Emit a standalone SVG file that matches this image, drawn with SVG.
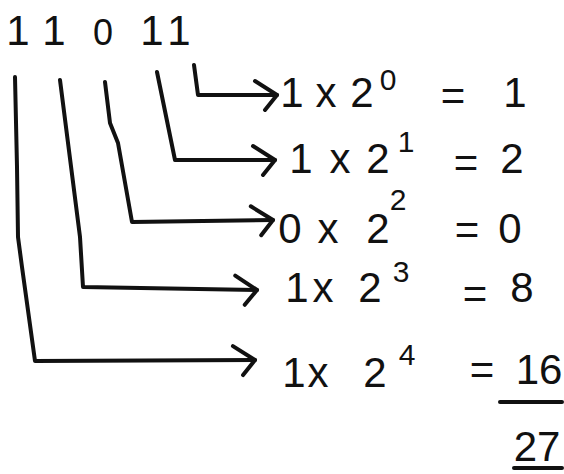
<svg xmlns="http://www.w3.org/2000/svg" width="564" height="474" viewBox="0 0 564 474">
<style>
.t{font-family:"Liberation Sans",Arial,sans-serif;font-size:42px;fill:#111;text-anchor:middle}
.s{font-size:30px}
.c{fill:none;stroke:#111;stroke-width:4;stroke-linecap:round;stroke-linejoin:round;marker-end:url(#ah)}
.r{fill:none;stroke:#111;stroke-width:4;stroke-linecap:round}
</style>
<defs>
<marker id="ah" markerUnits="userSpaceOnUse" markerWidth="40" markerHeight="40" viewBox="-30 -20 40 40" refX="0" refY="0" orient="auto" overflow="visible">
<path d="M-22,-14 L0,0 L-12,15" fill="none" stroke="#111" stroke-width="4" stroke-linecap="round" stroke-linejoin="round"/>
</marker>
</defs>
<rect width="564" height="474" fill="#fff"/>
<g id="binary">
<text class="t" x="18" y="45" font-size="44">1</text>
<text class="t" x="54" y="45" font-size="44">1</text>
<text class="t" x="103" y="45" style="font-size:36px">0</text>
<text class="t" x="152" y="45" font-size="44">1</text>
<text class="t" x="179" y="45" font-size="44">1</text>
</g>
<g id="connectors">
<path class="c" d="M194,65 L198,95 L277,95"/>
<path class="c" d="M157,72 L175,160 L275,160"/>
<path class="c" d="M105,82 L110,123 L118,143 L132,222 L273,220"/>
<path class="c" d="M60,80 L80,237 L83,287 L257,290"/>
<path class="c" d="M15,77 L17,167 L18,237 L22,267 L35,361 L255,360"/>
</g>
<g id="row0">
<text class="t" x="292" y="107">1</text>
<text class="t" x="326" y="107">x</text>
<text class="t" x="362" y="107">2</text>
<text class="t s" x="388" y="90">0</text>
<text class="t" x="453" y="110">=</text>
<text class="t" x="515" y="107">1</text>
</g>
<g id="row1">
<text class="t" x="301" y="173">1</text>
<text class="t" x="340" y="173">x</text>
<text class="t" x="378" y="173">2</text>
<text class="t s" x="406" y="152">1</text>
<text class="t" x="466" y="177">=</text>
<text class="t" x="512" y="173">2</text>
</g>
<g id="row2">
<text class="t" x="290" y="243">0</text>
<text class="t" x="328" y="243">x</text>
<text class="t" x="378" y="243">2</text>
<text class="t s" x="398" y="210">2</text>
<text class="t" x="467" y="244">=</text>
<text class="t" x="510" y="243">0</text>
</g>
<g id="row3">
<text class="t" x="297" y="302">1</text>
<text class="t" x="323" y="302">x</text>
<text class="t" x="370" y="302">2</text>
<text class="t s" x="401" y="282">3</text>
<text class="t" x="475" y="308">=</text>
<text class="t" x="522" y="302">8</text>
</g>
<g id="row4">
<text class="t" x="294" y="387">1</text>
<text class="t" x="318" y="387">x</text>
<text class="t" x="375" y="387">2</text>
<text class="t s" x="407" y="365">4</text>
<text class="t" x="482" y="384">=</text>
<text class="t" x="539" y="384">16</text>
</g>
<g id="total">
<path class="r" d="M500,402 L562,402"/>
<text class="t" x="537" y="461">27</text>
<path class="r" d="M514,468 L562,468"/>
</g>
</svg>
